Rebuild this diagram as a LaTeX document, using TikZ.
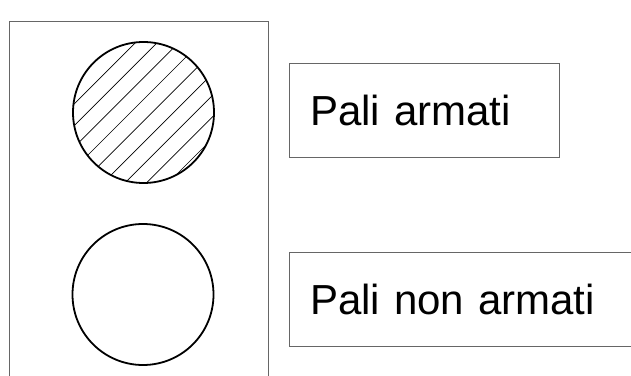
\documentclass[tikz,border=0pt]{standalone}
\usepackage{fontspec}
\setmainfont{Liberation Sans}
\begin{document}
\begin{tikzpicture}[x=1pt,y=1pt,
  palo/.style={draw,circle,line width=1.8pt,minimum size=141pt,inner sep=0pt},
  voce/.style={draw=black!60,line width=0.8pt,minimum height=94pt,inner xsep=21pt,outer sep=0pt,
    align=left,font=\fontsize{42}{48}\selectfont,anchor=north west}]
\useasboundingbox (0,0) rectangle (631,375);
\clip (0,0) rectangle (631,375);
% riquadro legenda
\draw[black!60,line width=0.8pt] (9,-5) rectangle (268,354);
\node[palo,path picture={
  \foreach \k in {-4,...,4}
    \draw[line width=0.7pt] ([shift={(8.6+21.6*\k-100,-100)}]path picture bounding box.center) -- ++(200,200);
}] (armato) at (143.5,262.5) {};
\node[palo] (nonarmato) at (143,80.5) {};
% etichette
\node[voce,text width=228pt] (lab1) at (289,312) {Pali armati};
\node[voce,text width=338pt] (lab2) at (289,123) {Pali non armati};
\end{tikzpicture}
\end{document}
